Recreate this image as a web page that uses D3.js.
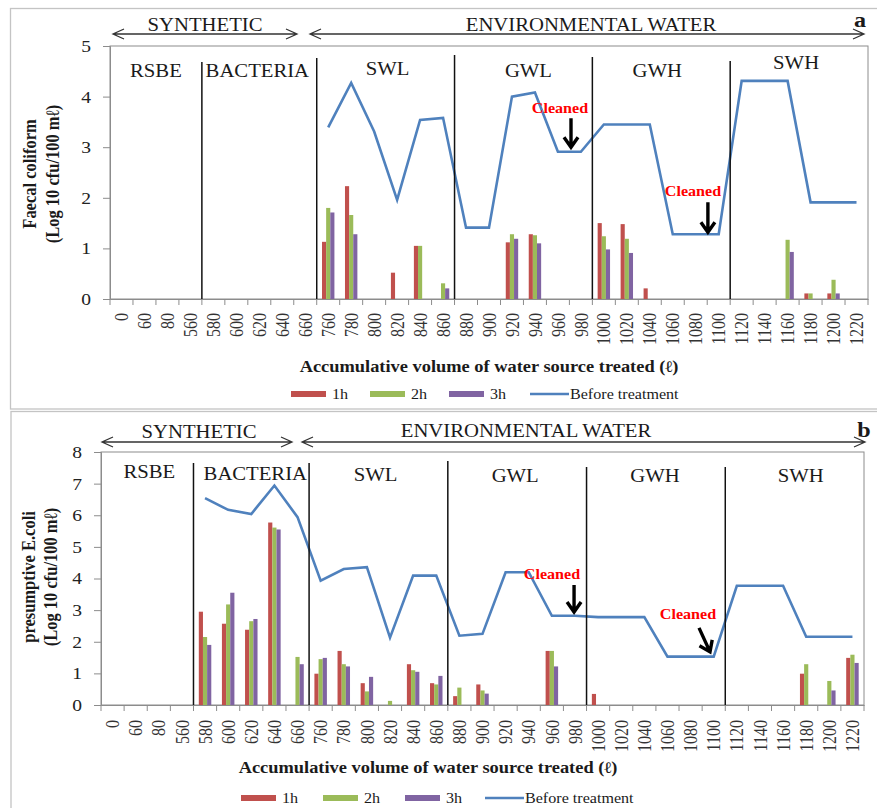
<!DOCTYPE html>
<html><head><meta charset="utf-8">
<script src="https://cdn.jsdelivr.net/npm/d3@7"></script>
<style>
body{margin:0;background:#fff}
svg{display:block}
text{font-family:"Liberation Serif","Times New Roman",serif;fill:#1a1a1a}
</style>
</head><body>
<svg id="c" width="877" height="808"></svg>
<script>
// ---------------- DATA ----------------
const categories = ["0","60","80","560","580","600","620","640","660","760","780","800","820","840","860","880","900","920","940","960","980","1000","1020","1040","1060","1080","1100","1120","1140","1160","1180","1200","1220"];
const seriesNames = ["1h","2h","3h"];
const lineName = "Before treatment";
const regionNames = ["RSBE","BACTERIA","SWL","GWL","GWH","SWH"];
const regionBounds = [0,4,9,15,21,27,33];
const groupNames = ["SYNTHETIC","ENVIRONMENTAL WATER"];
const N = null;

// Panel a: Faecal coliform (log10 cfu/100 mL)
const fc1h = [N,N,N,N,N,N,N,N,N, 1.13,2.23,N,0.52,1.05,N, N,N,1.12,1.28,N,N, 1.50,1.48,0.21,N,N,N, N,N,N,0.11,0.11,N];
const fc2h = [N,N,N,N,N,N,N,N,N, 1.80,1.66,N,N,1.05,0.31, N,N,1.28,1.26,N,N, 1.24,1.19,N,N,N,N, N,N,1.17,0.11,0.38,N];
const fc3h = [N,N,N,N,N,N,N,N,N, 1.71,1.28,N,N,N,0.21, N,N,1.19,1.10,N,N, 0.98,0.91,N,N,N,N, N,N,0.93,N,0.11,N];
const fcBefore = [N,N,N,N,N,N,N,N,N, 3.39,4.27,3.31,1.96,3.54,3.58, 1.41,1.41,4.00,4.08,2.91,2.91, 3.45,3.45,3.45,1.28,1.28,1.28, 4.31,4.31,4.31,1.91,1.91,1.91];
const fcTicks = [0,1,2,3,4,5];

// Panel b: presumptive E.coli (log10 cfu/100 mL)
const ec1h = [N,N,N,N, 2.95,2.57,2.38,5.77,N, 0.99,1.71,0.69,N,1.29,0.69, 0.28,0.65,N,N,1.71,N, 0.35,N,N,N,N,N, N,N,N,0.99,N,1.49];
const ec2h = [N,N,N,N, 2.15,3.18,2.65,5.61,1.52, 1.45,1.29,0.43,0.13,1.10,0.65, 0.55,0.46,N,N,1.71,N, N,N,N,N,N,N, N,N,N,1.29,0.76,1.59];
const ec3h = [N,N,N,N, 1.90,3.55,2.72,5.55,1.29, 1.49,1.22,0.89,N,1.05,0.92, N,0.36,N,N,1.22,N, N,N,N,N,N,N, N,N,N,N,0.46,1.33];
const ecBefore = [N,N,N,N, 6.54,6.17,6.04,6.94,5.94, 3.93,4.30,4.36,2.13,4.09,4.09, 2.19,2.25,4.20,4.20,2.82,2.82, 2.78,2.78,2.78,1.53,1.53,1.53, 3.77,3.77,3.77,2.16,2.16,2.16];
const ecTicks = [0,1,2,3,4,5,6,7,8];

const colors = {"1h":"#C0504D","2h":"#9BBB59","3h":"#8064A2",line:"#4F81BD"};

// ---------------- LAYOUT ----------------
const STR = 1.15;
const svg = d3.select("#c");

const panels = [
  {
    letter:"a", bars:[fc1h,fc2h,fc3h], before:fcBefore, ticks:fcTicks, yMax:5,
    frame:[10.5,8.5,875,400.5], plot:{x0:110,x1:868,y0:46,y1:299},
    yTitle:["Faecal coliform","(Log 10 cfu/100 m\u2113)"], yTitleX:[36,59], yTitleY:174,
    sepTop:[62,58,55,57,61], regionDx:[0,-2,2,5,-4,-3], regionY:[77,77,75,77,77,69],
    groupArrows:[[113,297,34],[310,864,34]], groupText:[[205,31],[591,31]], letterPos:[860,27],
    labelTop:313, xTitle:"Accumulative volume  of water source treated (\u2113)", xTitlePos:[489,372],
    legendY:394, legendX:[291,370,449,530],
    notes:[{text:[560,113], tip:[20.07,3.0], vec:[0,-29]},{text:[693,196], tip:[26.03,1.32], vec:[0,-30]}]
  },
  {
    letter:"b", bars:[ec1h,ec2h,ec3h], before:ecBefore, ticks:ecTicks, yMax:8,
    frame:[11,411.5,875,400], plot:{x0:101,x1:864,y0:452,y1:705},
    yTitle:["presumptive E.coli","(Log 10 cfu/100 m\u2113)"], yTitleX:[35,57], yTitleY:577,
    sepTop:[463,463,461,467,467], regionDx:[2,4,-3,-2,-1,6], regionY:[478,480,481,482,482,482],
    groupArrows:[[102,292,442],[302,865,442]], groupText:[[199,438],[526,437]], letterPos:[864,437],
    labelTop:720, xTitle:"Accumulative volume of water source treated (\u2113)", xTitlePos:[428,773],
    legendY:798, legendX:[241,323,405,485],
    notes:[{text:[552,579], tip:[20.46,2.94], vec:[0,-27]},{text:[688,619], tip:[26.34,1.68], vec:[-11,-24]}]
  }
];

function htext(g,x,y,txt,size,opts={}){
  const t=g.append("text").attr("transform",`translate(${x},${y}) scale(${STR},1)`)
    .attr("font-size",size).attr("text-anchor",opts.anchor||"middle").text(txt);
  if(opts.bold) t.attr("font-weight","bold");
  if(opts.fill) t.style("fill",opts.fill);
  return t;
}

function dblArrow(g,x1,x2,y,left,right){
  const p=d3.path();
  p.moveTo(x1,y); p.lineTo(x2,y);
  if(left){p.moveTo(x1+11,y-5);p.lineTo(x1,y);p.lineTo(x1+11,y+5);}
  if(right){p.moveTo(x2-11,y-5);p.lineTo(x2,y);p.lineTo(x2-11,y+5);}
  g.append("path").attr("d",p.toString()).attr("fill","none").attr("stroke","#333").attr("stroke-width",1.3);
}

panels.forEach(P=>{
  const g=svg.append("g");
  g.append("rect").attr("x",P.frame[0]).attr("y",P.frame[1]).attr("width",P.frame[2]).attr("height",P.frame[3])
    .attr("fill","none").attr("stroke","#c4c4c4").attr("stroke-width",1.3);

  const x=d3.scaleBand().domain(categories).range([P.plot.x0,P.plot.x1]);
  const y=d3.scaleLinear().domain([0,P.yMax]).range([P.plot.y1,P.plot.y0]);
  const bw=x.bandwidth();
  const groupW=bw*0.54;
  const xs=d3.scaleBand().domain(seriesNames).range([0,groupW]);
  const xPos=f=>P.plot.x0+f*bw; // fractional band index -> px

  // plot area border
  g.append("rect").attr("x",P.plot.x0).attr("y",y(P.yMax)).attr("width",P.plot.x1-P.plot.x0).attr("height",y(0)-y(P.yMax))
    .attr("fill","none").attr("stroke","#8c8c8c").attr("stroke-width",1);

  // y axis
  const ya=g.append("g").attr("transform",`translate(${P.plot.x0},0)`)
    .call(d3.axisLeft(y).tickValues(P.ticks).tickSize(7).tickPadding(12).tickFormat(d3.format("d")));
  ya.select(".domain").attr("stroke","#8c8c8c");
  ya.selectAll(".tick line").attr("stroke","#8c8c8c");
  ya.selectAll(".tick text").attr("font-size",17).attr("font-family","Liberation Serif, serif").style("fill","#222")
    .attr("transform",function(){return `translate(${d3.select(this).attr("x")},0) scale(${STR},1)`;}).attr("x",0);

  // x axis: labels centred in bands, tick marks at band boundaries
  const xa=g.append("g").attr("transform",`translate(0,${P.plot.y1})`)
    .call(d3.axisBottom(x).tickSize(0).tickPadding(0));
  xa.select(".domain").attr("stroke","#8c8c8c");
  xa.selectAll(".tick text").attr("font-size",16).attr("font-family","Liberation Serif, serif").style("fill","#333")
    .attr("transform",`rotate(-90) scale(1,${STR})`).attr("text-anchor","end")
    .attr("x",-(P.labelTop-P.plot.y1)).attr("y",0).attr("dy","0.36em");
  const bounds=categories.map(c=>x(c)).concat([P.plot.x1]);
  g.append("g").selectAll("line").data(bounds).join("line")
    .attr("x1",d=>d).attr("x2",d=>d).attr("y1",P.plot.y1).attr("y2",P.plot.y1+6)
    .attr("stroke","#8c8c8c");

  // bars
  seriesNames.forEach((s,si)=>{
    const vals=P.bars[si];
    g.append("g").selectAll("rect").data(vals.map((v,i)=>({v,c:categories[i]})).filter(d=>d.v!=null)).join("rect")
      .attr("x",d=>x(d.c)+(bw-groupW)/2+xs(s)).attr("width",xs.bandwidth())
      .attr("y",d=>y(d.v)).attr("height",d=>y(0)-y(d.v)).attr("fill",colors[s]);
  });

  // before-treatment line
  const line=d3.line().defined(d=>d!=null).x((d,i)=>x(categories[i])+bw/2).y(d=>y(d));
  g.append("path").attr("d",line(P.before)).attr("fill","none").attr("stroke",colors.line).attr("stroke-width",2.6).attr("stroke-linejoin","miter");

  // region separators and labels
  regionBounds.slice(1,-1).forEach((b,k)=>{
    g.append("line").attr("x1",xPos(b)).attr("x2",xPos(b)).attr("y1",P.sepTop[k]).attr("y2",P.plot.y1)
      .attr("stroke","#111").attr("stroke-width",1.5);
  });
  regionNames.forEach((r,k)=>{
    const cx=xPos((regionBounds[k]+regionBounds[k+1])/2)+P.regionDx[k];
    htext(g,cx,P.regionY[k],r,18);
  });

  // group arrows
  dblArrow(g,P.groupArrows[0][0],P.groupArrows[0][1],P.groupArrows[0][2],true,true);
  dblArrow(g,P.groupArrows[1][0],P.groupArrows[1][1],P.groupArrows[1][2],true,true);
  htext(g,P.groupText[0][0],P.groupText[0][1],groupNames[0],18);
  htext(g,P.groupText[1][0],P.groupText[1][1],groupNames[1],18);
  htext(g,P.letterPos[0],P.letterPos[1],P.letter,21,{bold:true});

  // "Cleaned" notes
  P.notes.forEach(n=>{
    htext(g,n.text[0],n.text[1],"Cleaned",14,{bold:true,fill:"#FF0000"});
    const tx=xPos(n.tip[0]), ty=y(n.tip[1]);
    const sx=tx+n.vec[0], sy=ty+n.vec[1];
    const len=Math.hypot(n.vec[0],n.vec[1]);
    const ux=-n.vec[0]/len, uy=-n.vec[1]/len;
    const hx=tx-ux*10, hy=ty-uy*10;
    const px=-uy*7, py=ux*7;
    const p=d3.path();
    p.moveTo(sx,sy); p.lineTo(tx,ty);
    p.moveTo(hx+px,hy+py); p.lineTo(tx,ty); p.lineTo(hx-px,hy-py);
    g.append("path").attr("d",p.toString()).attr("fill","none").attr("stroke","#000").attr("stroke-width",3.4).attr("stroke-linejoin","miter");
  });

  // y title
  P.yTitle.forEach((t,k)=>{
    g.append("text").attr("transform",`translate(${P.yTitleX[k]},${P.yTitleY}) rotate(-90) scale(1,${STR})`)
      .attr("text-anchor","middle").attr("font-size",16.5).attr("font-weight","bold").text(t);
  });

  // x title
  htext(g,P.xTitlePos[0],P.xTitlePos[1],P.xTitle,16,{bold:true});

  // legend
  seriesNames.forEach((s,k)=>{
    const lx=P.legendX[k];
    g.append("rect").attr("x",lx).attr("y",P.legendY-3).attr("width",35).attr("height",6).attr("fill",colors[s]);
    htext(g,lx+41,P.legendY+5,s,14,{anchor:"start"});
  });
  const lx=P.legendX[3];
  g.append("line").attr("x1",lx).attr("x2",lx+39).attr("y1",P.legendY).attr("y2",P.legendY).attr("stroke",colors.line).attr("stroke-width",2.6);
  htext(g,lx+40,P.legendY+5,lineName,14,{anchor:"start"});
});
</script>
</body></html>
